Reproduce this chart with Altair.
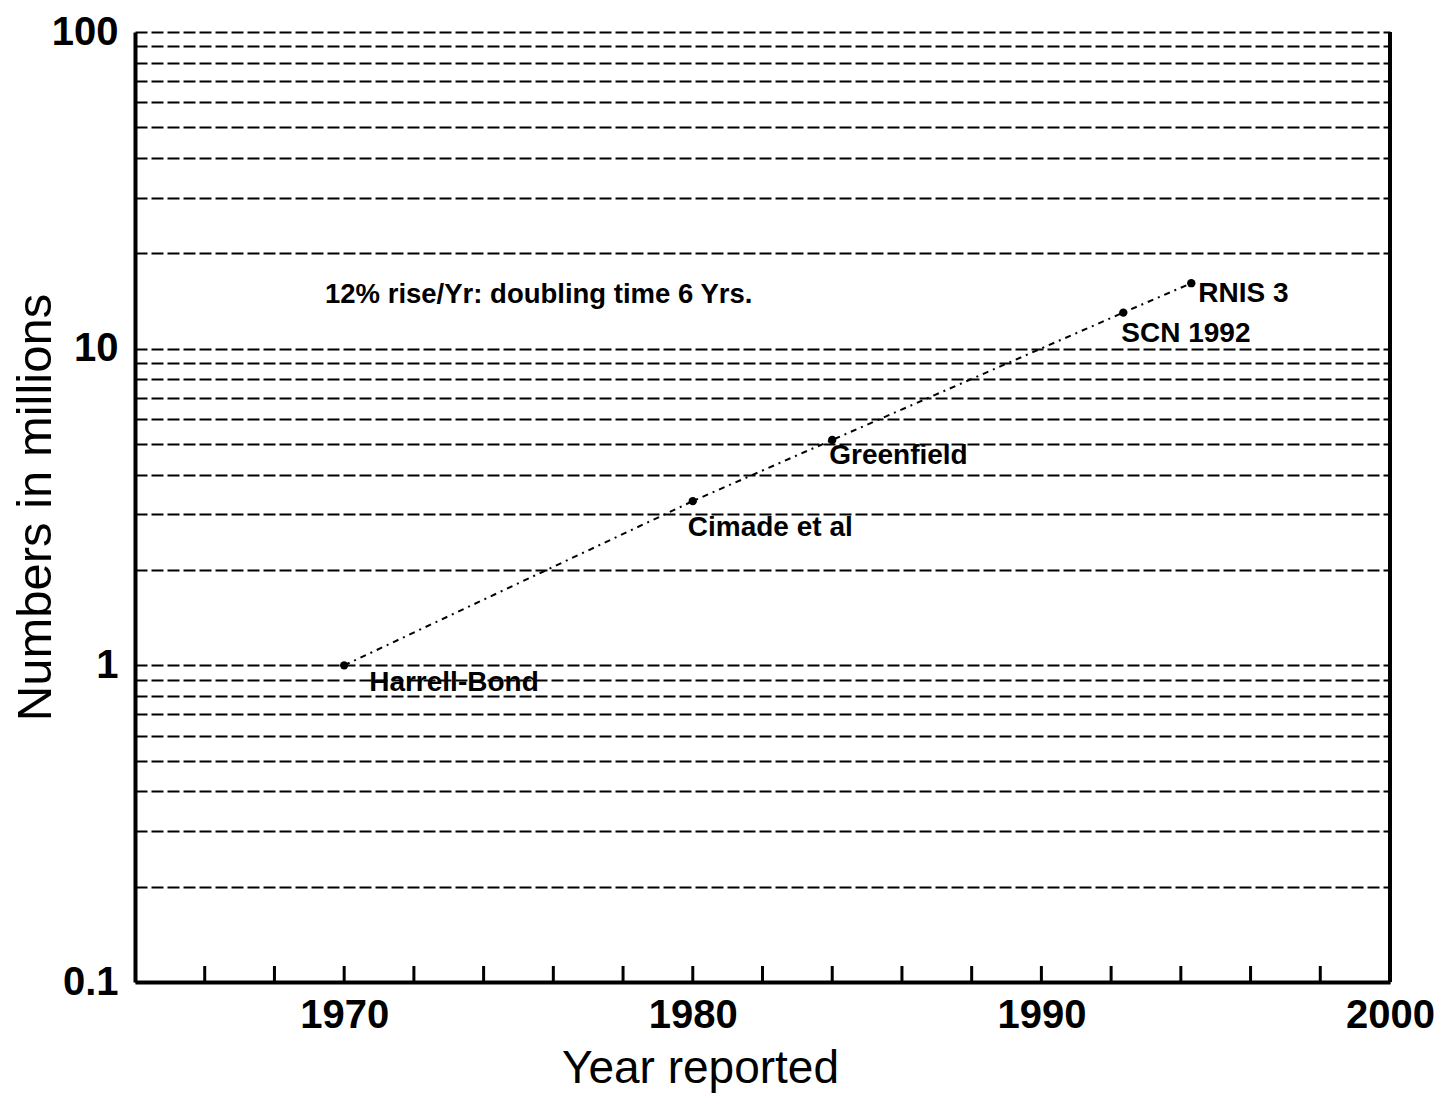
import altair as alt
import pandas as pd

# ---- data ----
years = [1970, 1980, 1984, 1992.35, 1994.3]
values = [1.0, 3.3, 5.15, 13.0, 16.1]
sources = ["Harrell-Bond", "Cimade et al", "Greenfield", "SCN 1992", "RNIS 3"]

grid_values = [0.2, 0.3, 0.4, 0.5, 0.6, 0.7, 0.8, 0.9,
               1, 2, 3, 4, 5, 6, 7, 8, 9,
               10, 20, 30, 40, 50, 60, 70, 80, 90, 100]
decade_labels = [0.1, 1, 10, 100]
x_tick_years = list(range(1966, 2000, 2))
x_label_years = [1970, 1980, 1990, 2000]

note_text = "12% rise/Yr: doubling time 6 Yrs."
note_year = 1969.45
note_value = 14.8

# label offsets (style only)
label_dx = [25, -5, -3, -2, 7]
label_dy = [18, 27, 16, 21, 11]

W, H = 1255, 950
FONT = "Liberation Sans"

df = pd.DataFrame({"year": years, "value": values, "source": sources})
ticks_df = pd.DataFrame({"year": x_tick_years})
note_df = pd.DataFrame({"year": [note_year], "value": [note_value], "text": [note_text]})

xscale = alt.Scale(domain=[1964, 2000], nice=False, zero=False)
yscale = alt.Scale(type="log", domain=[0.1, 100], nice=False)

label_expr = ("datum.value == 0.1 ? '0.1' : datum.value == 1 ? '1' : "
              "datum.value == 10 ? '10' : datum.value == 100 ? '100' : ''")

x_enc = alt.X("year:Q", scale=xscale, axis=alt.Axis(
    values=x_label_years, format="d", grid=False, ticks=False,
    domainColor="black", domainWidth=4, labelFlush=False, labelOverlap=False,
    labelFont=FONT, labelFontWeight="bold", labelFontSize=40, labelColor="black",
    labelPadding=13, title="Year reported", titleFont=FONT, titleFontWeight="normal",
    titleFontSize=46, titleColor="black", titleX=565, titleY=86,
    titleBaseline="middle", titleAnchor="start", titleAlign="center"))

y_enc = alt.Y("value:Q", scale=yscale, axis=alt.Axis(
    values=[0.1] + grid_values, labelExpr=label_expr, grid=True,
    gridDash=[12, 4], gridColor="black", gridWidth=2, gridOpacity=1,
    ticks=False, domainColor="black", domainWidth=4,
    labelFont=FONT, labelFontWeight="bold", labelFontSize=40, labelColor="black",
    labelPadding=17, labelBaseline="middle", labelOverlap=False, labelFlush=False,
    title="Numbers in millions", titleFont=FONT, titleFontWeight="normal",
    titleFontSize=49, titleColor="black", titleAngle=270, titleX=-100,
    titleY=H / 2, titleAlign="center", titleBaseline="middle"))

base = alt.Chart(df)

line = base.mark_line(color="black", strokeWidth=2, strokeDash=[6, 5, 2, 5]).encode(
    x=x_enc, y=y_enc)
points = base.mark_circle(color="black", size=70, opacity=1).encode(
    x=alt.X("year:Q", scale=xscale), y=alt.Y("value:Q", scale=yscale))

labels = []
for s, dx, dy in zip(sources, label_dx, label_dy):
    labels.append(
        base.transform_filter(alt.datum.source == s)
        .mark_text(align="left", baseline="middle", dx=dx, dy=dy, font=FONT,
                   fontWeight="bold", fontSize=28, color="black")
        .encode(x=alt.X("year:Q", scale=xscale), y=alt.Y("value:Q", scale=yscale),
                text="source:N"))

note = alt.Chart(note_df).mark_text(
    align="left", baseline="middle", font=FONT, fontWeight="bold",
    fontSize=27.5, color="black").encode(
    x=alt.X("year:Q", scale=xscale), y=alt.Y("value:Q", scale=yscale), text="text:N")

xticks = alt.Chart(ticks_df).mark_rule(color="black", strokeWidth=3).encode(
    x=alt.X("year:Q", scale=xscale), y=alt.value(H), y2=alt.value(H - 16))

right_border = alt.Chart(ticks_df).mark_rule(color="black", strokeWidth=4).encode(
    x=alt.value(W), y=alt.value(0), y2=alt.value(H))

chart = alt.layer(line, points, *labels, note, xticks, right_border).properties(
    width=W, height=H,
    autosize=alt.AutoSizeParams(type="none"),
    padding={"left": 127, "top": 24, "right": 50, "bottom": 113},
    background="white",
).configure_view(stroke=None)

chart.save("out.html", embed_options={"renderer": "svg", "actions": False})
